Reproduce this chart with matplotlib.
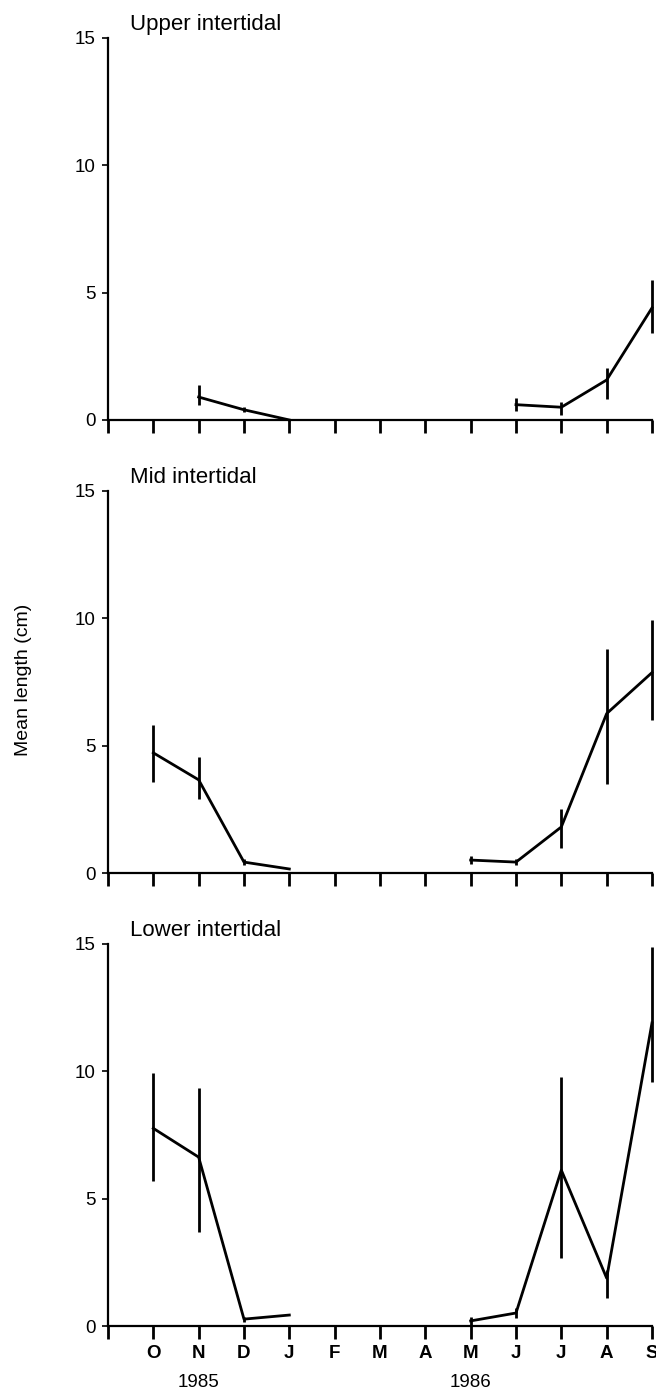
import numpy as np
import matplotlib
matplotlib.use("Agg")
import matplotlib.pyplot as plt
import matplotlib.transforms as mtransforms

plt.rcParams['font.family'] = ['Liberation Sans', 'DejaVu Sans']

# months from Oct 1985 (1) to Sep 1986 (12)
month_labels = ["O", "N", "D", "J", "F", "M", "A", "M", "J", "J", "A", "S"]
panel_titles = ["Upper intertidal", "Mid intertidal", "Lower intertidal"]

# each panel has two separate runs of samples: (month, mean, low, high)
upper_x1 = [2, 3, 4]
upper_y1 = [0.9, 0.4, 0.0]
upper_lo1 = [0.6, 0.3, 0.0]
upper_hi1 = [1.37, 0.5, 0.0]
upper_x2 = [9, 10, 11, 12]
upper_y2 = [0.6, 0.5, 1.57, 4.4]
upper_lo2 = [0.35, 0.2, 0.82, 3.4]
upper_hi2 = [0.85, 0.7, 2.04, 5.5]

mid_x1 = [1, 2, 3, 4]
mid_y1 = [4.72, 3.66, 0.43, 0.16]
mid_lo1 = [3.58, 2.91, 0.3, 0.16]
mid_hi1 = [5.83, 4.57, 0.56, 0.16]
mid_x2 = [8, 9, 10, 11, 12]
mid_y2 = [0.51, 0.43, 1.81, 6.26, 7.87]
mid_lo2 = [0.36, 0.3, 0.98, 3.5, 6.02]
mid_hi2 = [0.66, 0.56, 2.52, 8.78, 9.92]

lower_x1 = [1, 2, 3, 4]
lower_y1 = [7.76, 6.63, 0.27, 0.43]
lower_lo1 = [5.69, 3.69, 0.15, 0.43]
lower_hi1 = [9.92, 9.33, 0.35, 0.43]
lower_x2 = [8, 9, 10, 11, 12]
lower_y2 = [0.2, 0.51, 6.12, 1.88, 11.9]
lower_lo2 = [0.05, 0.3, 2.67, 1.1, 9.57]
lower_hi2 = [0.35, 0.7, 9.76, 2.2, 14.86]

panels = [
    [(upper_x1, upper_y1, upper_lo1, upper_hi1), (upper_x2, upper_y2, upper_lo2, upper_hi2)],
    [(mid_x1, mid_y1, mid_lo1, mid_hi1), (mid_x2, mid_y2, mid_lo2, mid_hi2)],
    [(lower_x1, lower_y1, lower_lo1, lower_hi1), (lower_x2, lower_y2, lower_lo2, lower_hi2)],
]

fig = plt.figure(figsize=(6.56, 13.98), dpi=100)
left, width = 0.1646, 0.8293
bottoms = [0.6996, 0.3755, 0.0515]
height = 0.2733

for i in range(3):
    ax = fig.add_axes([left, bottoms[i], width, height])
    for xs, ys, lo, hi in panels[i]:
        ys = np.array(ys)
        yerr = [ys - np.array(lo), np.array(hi) - ys]
        eb = ax.errorbar(xs, ys, yerr=yerr, color="black", lw=2, elinewidth=2, capsize=0)
        # keep the bars at the right edge whole
        eb.lines[0].set_clip_on(False)
        for art in eb.lines[2]:
            art.set_clip_on(False)
    ax.set_xlim(0, 12)
    ax.set_ylim(0, 15)
    ax.spines["top"].set_visible(False)
    ax.spines["right"].set_visible(False)
    ax.spines["left"].set_linewidth(1.6)
    ax.spines["bottom"].set_linewidth(1.6)
    ax.set_yticks([0, 5, 10, 15])
    ax.tick_params(axis="y", direction="out", length=4, width=1.2, labelsize=13.5, pad=5)
    ax.set_xticks(np.arange(0, 13))
    ax.tick_params(axis="x", direction="out", length=9, width=2)
    ax.set_title(panel_titles[i], loc="left", x=0.04, fontsize=16, pad=6)
    if i == 2:
        ax.set_xticklabels([""] + month_labels, fontsize=13.5, fontweight="bold")
        ax.tick_params(axis="x", pad=5)
        trans = mtransforms.blended_transform_factory(ax.transData, ax.transAxes)
        ax.text(2, -0.148, "1985", transform=trans, ha="center", va="center",
                fontsize=13.5)
        ax.text(8, -0.148, "1986", transform=trans, ha="center", va="center",
                fontsize=13.5)
    else:
        ax.set_xticklabels([])

fig.text(0.036, 0.5136, "Mean length (cm)", rotation=90, ha="center", va="center", fontsize=14)

fig.savefig("out.png", dpi=100)
